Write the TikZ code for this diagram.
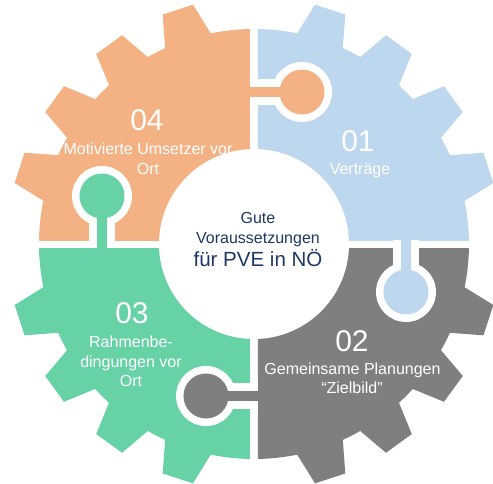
\documentclass[tikz,border=0pt]{standalone}
\usepackage{fontspec}
\setmainfont{Liberation Sans}

\definecolor{pieceorange}{HTML}{F4B183}
\definecolor{pieceblue}{HTML}{BDD7EE}
\definecolor{piecegray}{HTML}{7F7F7F}
\definecolor{piecegreen}{HTML}{66D2A6}
\definecolor{hubtext}{HTML}{1F3864}

\tikzset{
  piecelabel/.style={text=white, inner sep=0pt, anchor=base, font=\fontsize{16}{19}\selectfont},
  piecenumber/.style={text=white, inner sep=0pt, anchor=base, font=\fontsize{30}{36}\selectfont},
  hublabel/.style={text=hubtext, inner sep=0pt, anchor=base, font=\fontsize{16}{19}\selectfont},
  hubtitle/.style={hublabel, font=\fontsize{20.5}{24}\selectfont},
}

\begin{document}
\begin{tikzpicture}[x=1pt, y=1pt]
  \useasboundingbox (-254,-239) rectangle (239,244);

  % four gear quarters, each with four teeth, separated by a white cross gap
  \foreach \col/\rot in {pieceblue/0, piecegray/-90, piecegreen/-180, pieceorange/-270} {
    \begin{scope}[rotate=\rot]
      \clip (4,4) rectangle (260,260);
      \fill[\col] (0,0) circle[radius=215];
      \foreach \a in {18,36,54,72}
        \fill[\col] (\a-6.5:214) -- (\a-3.7:247) -- (\a+3.7:247) -- (\a+6.5:214) -- cycle;
    \end{scope}
  }

  % white hub
  \fill[white] (0,0) circle[radius=95];

  % puzzle knobs: each quarter reaches into its clockwise neighbour
  \foreach \col/\rot in {pieceorange/0, pieceblue/-90, piecegray/-180, piecegreen/-270} {
    \begin{scope}[rotate=\rot]
      \fill[white] (-4,139) rectangle (48,165);
      \fill[white] (48,152) circle[radius=30];
      \fill[\col] (-8,147) rectangle (48,157);
      \fill[\col] (48,152) circle[radius=22.5];
    \end{scope}
  }

  % quarter labels
  \node[piecenumber] (n04) at (-107,114) {04};
  \node[piecelabel] (t04a) at (-106,90) {Motivierte Umsetzer vor};
  \node[piecelabel] (t04b) at (-106,70) {Ort};

  \node[piecenumber] (n01) at (104,93) {01};
  \node[piecelabel] (t01a) at (106,69.5) {Verträge};

  \node[piecenumber] (n02) at (98,-107) {02};
  \node[piecelabel] (t02a) at (98.5,-130.5) {Gemeinsame Planungen};
  \node[piecelabel] (t02b) at (98,-149.5) {“Zielbild”};

  \node[piecenumber] (n03) at (-122,-79) {03};
  \node[piecelabel] (t03a) at (-123,-103.5) {Rahmenbe-};
  \node[piecelabel] (t03b) at (-123,-123.5) {dingungen vor};
  \node[piecelabel] (t03c) at (-123,-142.5) {Ort};

  % hub text
  \node[hublabel] (h1) at (4,20.5) {Gute};
  \node[hublabel] (h2) at (4,0.5) {Voraussetzungen};
  \node[hubtitle] (h3) at (4,-22.5) {für PVE in NÖ};
\end{tikzpicture}
\end{document}
